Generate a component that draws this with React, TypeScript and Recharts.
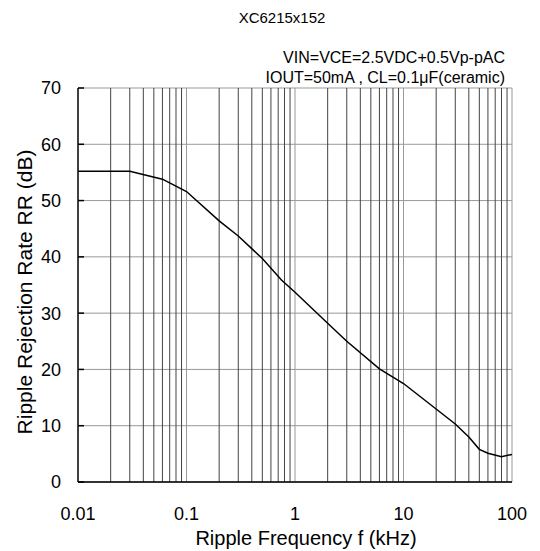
import { LineChart, Line, XAxis, YAxis, CartesianGrid, ReferenceLine } from "recharts";

// ripple frequency (kHz) and rejection rate (dB)
const freqs = [0.01, 0.03, 0.06, 0.1, 0.2, 0.3, 0.5, 0.75, 1, 2, 3, 6, 10, 30, 40, 50, 60, 80, 100];
const rrDb = [55.2, 55.2, 53.8, 51.6, 46.4, 43.7, 39.7, 35.9, 33.7, 28.2, 25.0, 20.1, 17.5, 10.3, 8.0, 5.8, 5.1, 4.5, 4.9];

const xTicks = [0.01, 0.1, 1, 10, 100];
const xTickLabels = ["0.01", "0.1", "1", "10", "100"];
const yTicks = [0, 10, 20, 30, 40, 50, 60, 70];
const minorFreqs = [
    0.02, 0.03, 0.04, 0.05, 0.06, 0.07, 0.08, 0.09,
    0.2, 0.3, 0.4, 0.5, 0.6, 0.7, 0.8, 0.9,
    2, 3, 4, 5, 6, 7, 8, 9,
    20, 30, 40, 50, 60, 70, 80, 90
];
const decadeFreqs = [0.1, 1, 10, 100];

const title = "XC6215x152";
const condLines = ["VIN=VCE=2.5VDC+0.5Vp-pAC", "IOUT=50mA , CL=0.1μF(ceramic)"];

const data = freqs.map((f, i) => ({ f, rr: rrDb[i] }));
const font = "'Liberation Sans', Arial, sans-serif";

const YTick = ({ x, y, payload }: any) => (
    <g>
        <line x1={x} x2={x + 6} y1={y} y2={y} stroke="#000" strokeWidth={1.5} />
        <text x={x - 17} y={y} dy="0.36em" textAnchor="end" fontFamily={font} fontSize={18} fill="#000">
            {payload.value}
        </text>
    </g>
);

const XTick = ({ x, y, payload }: any) => {
    const idx = xTicks.indexOf(payload.value);
    return (
        <text x={x} y={y + 38} textAnchor="middle" fontFamily={font} fontSize={18} fill="#000">
            {idx >= 0 ? xTickLabels[idx] : payload.value}
        </text>
    );
};

export default function App() {
    return (
        <div style={{ position: "absolute", left: 0, top: 0, width: 540, height: 551, background: "#fff" }}>
            <LineChart width={540} height={551} data={data} margin={{ top: 88, right: 28, bottom: 0, left: 0 }}>
                <CartesianGrid vertical={false} stroke="#999" />
                {minorFreqs.map(f => (
                    <ReferenceLine key={"m" + f} x={f} stroke="#444" strokeWidth={1} />
                ))}
                {decadeFreqs.map(f => (
                    <ReferenceLine key={"d" + f} x={f} stroke="#999" strokeWidth={1} />
                ))}
                <XAxis
                    dataKey="f"
                    type="number"
                    scale="log"
                    domain={[0.01, 100]}
                    ticks={xTicks}
                    allowDataOverflow
                    height={69}
                    tickLine={false}
                    tickSize={0}
                    tickMargin={0}
                    axisLine={{ stroke: "#000", strokeWidth: 1.5 }}
                    tick={<XTick />}
                />
                <YAxis
                    type="number"
                    domain={[0, 70]}
                    ticks={yTicks}
                    width={78}
                    tickLine={false}
                    tickSize={0}
                    tickMargin={0}
                    axisLine={{ stroke: "#000", strokeWidth: 1.5 }}
                    tick={<YTick />}
                />
                <Line
                    dataKey="rr"
                    type="linear"
                    stroke="#000"
                    strokeWidth={1.5}
                    dot={false}
                    isAnimationActive={false}
                />
            </LineChart>
            <svg width={540} height={551} style={{ position: "absolute", left: 0, top: 0, pointerEvents: "none" }}>
                <text x={282} y={23} textAnchor="middle" fontFamily={font} fontSize={15} fill="#000">{title}</text>
                <text x={505} y={63} textAnchor="end" fontFamily={font} fontSize={16} fill="#000">{condLines[0]}</text>
                <text x={505} y={83} textAnchor="end" fontFamily={font} fontSize={16} fill="#000">{condLines[1]}</text>
                <text x={306} y={545} textAnchor="middle" fontFamily={font} fontSize={20} fill="#000">
                    Ripple Frequency f (kHz)
                </text>
                <text
                    x={0}
                    y={0}
                    transform="translate(32,292) rotate(-90)"
                    textAnchor="middle"
                    fontFamily={font}
                    fontSize={21}
                    fill="#000"
                >
                    Ripple Rejection Rate RR (dB)
                </text>
            </svg>
        </div>
    );
}
